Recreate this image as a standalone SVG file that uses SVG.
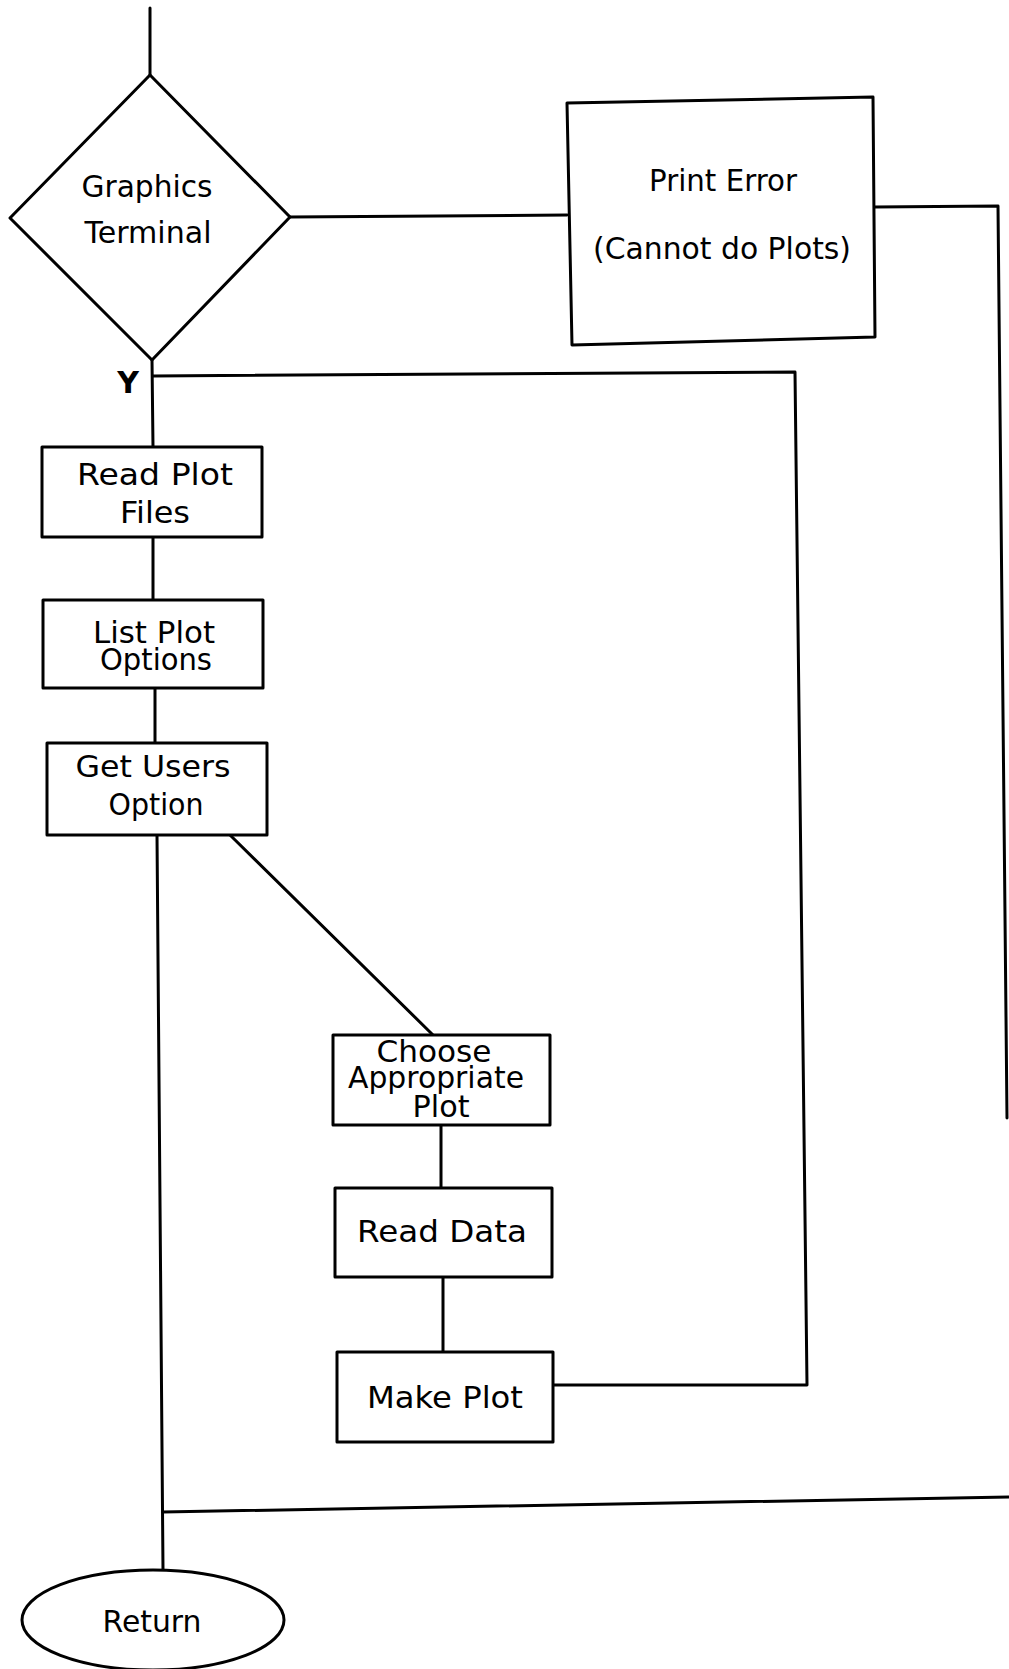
<svg xmlns="http://www.w3.org/2000/svg" width="1009" height="1669" viewBox="0 0 1009 1669">
<style>
.s{fill:#fff;stroke:#000;stroke-width:3;stroke-linejoin:round}
.c{fill:none;stroke:#000;stroke-width:3;stroke-linejoin:round;stroke-linecap:round}
text{font-family:"DejaVu Sans","Liberation Sans",sans-serif;font-size:30px;fill:#000;text-anchor:middle}
.b{font-weight:bold}
</style>
<rect width="1009" height="1669" fill="#fff"/>
<g id="connectors">
<polyline class="c" points="150,8 150,75"/>
<polyline class="c" points="290,217 567,215"/>
<polyline class="c" points="875,207 998,206 1007,1118"/>
<polyline class="c" points="152,360 153,447"/>
<polyline class="c" points="153,376 795,372 807,1385 553,1385"/>
<polyline class="c" points="153,537 153,600"/>
<polyline class="c" points="155,688 155,743"/>
<polyline class="c" points="157,835 163,1570"/>
<polyline class="c" points="230,835 433,1035"/>
<polyline class="c" points="441,1125 441,1188"/>
<polyline class="c" points="443,1277 443,1352"/>
<polyline class="c" points="163,1512 1009,1497"/>
</g>
<g id="decision">
<polygon class="s" points="150,75 290,217 152,360 10,218"/>
<text x="147" y="197" textLength="131" lengthAdjust="spacingAndGlyphs">Graphics</text>
<text x="148" y="243" textLength="127" lengthAdjust="spacingAndGlyphs">Terminal</text>
</g>
<g id="label-y">
<text class="b" x="128" y="393" font-size="28">Y</text>
</g>
<g id="print-error">
<polygon class="s" points="567,103 873,97 875,337 572,345"/>
<text x="723" y="191" textLength="148" lengthAdjust="spacingAndGlyphs">Print Error</text>
<text x="722" y="259" textLength="258" lengthAdjust="spacingAndGlyphs">(Cannot do Plots)</text>
</g>
<g id="read-plot-files">
<rect class="s" x="42" y="447" width="220" height="90"/>
<text x="155" y="485" textLength="156" lengthAdjust="spacingAndGlyphs">Read Plot</text>
<text x="155" y="523" textLength="70" lengthAdjust="spacingAndGlyphs">Files</text>
</g>
<g id="list-plot-options">
<rect class="s" x="43" y="600" width="220" height="88"/>
<text x="154" y="643" textLength="122" lengthAdjust="spacingAndGlyphs">List Plot</text>
<text x="156" y="670" textLength="112" lengthAdjust="spacingAndGlyphs">Options</text>
</g>
<g id="get-users-option">
<rect class="s" x="47" y="743" width="220" height="92"/>
<text x="153" y="777" textLength="155" lengthAdjust="spacingAndGlyphs">Get Users</text>
<text x="156" y="815" textLength="95" lengthAdjust="spacingAndGlyphs">Option</text>
</g>
<g id="choose-plot">
<rect class="s" x="333" y="1035" width="217" height="90"/>
<text x="434" y="1062" textLength="115" lengthAdjust="spacingAndGlyphs">Choose</text>
<text x="436" y="1088" textLength="176" lengthAdjust="spacingAndGlyphs">Appropriate</text>
<text x="441" y="1117" textLength="57" lengthAdjust="spacingAndGlyphs">Plot</text>
</g>
<g id="read-data">
<rect class="s" x="335" y="1188" width="217" height="89"/>
<text x="442" y="1242" textLength="170" lengthAdjust="spacingAndGlyphs">Read Data</text>
</g>
<g id="make-plot">
<rect class="s" x="337" y="1352" width="216" height="90"/>
<text x="445" y="1408" textLength="156" lengthAdjust="spacingAndGlyphs">Make Plot</text>
</g>
<g id="return">
<ellipse class="s" cx="153" cy="1620" rx="131" ry="50"/>
<text x="152" y="1632" textLength="99" lengthAdjust="spacingAndGlyphs">Return</text>
</g>
</svg>
